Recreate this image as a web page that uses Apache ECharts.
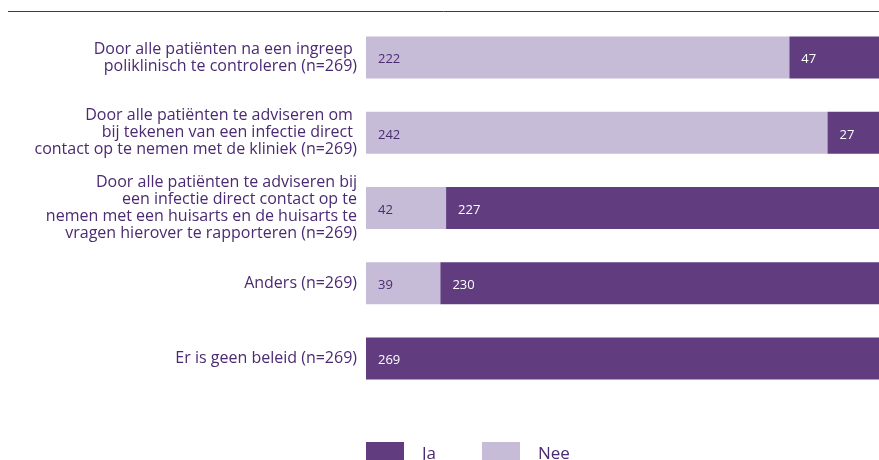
<!DOCTYPE html>
<html>
<head>
<meta charset="utf-8">
<script src="https://cdn.jsdelivr.net/npm/echarts@6/dist/echarts.min.js"></script>
<style>
  html, body { margin: 0; padding: 0; background: #fff; }
  #chart { width: 879px; height: 460px; }
</style>
</head>
<body>
<div id="chart"></div>
<script>
const categories = [
  'Door alle patiënten na een ingreep \npoliklinisch te controleren (n=269)',
  'Door alle patiënten te adviseren om \nbij tekenen van een infectie direct \ncontact op te nemen met de kliniek (n=269)',
  'Door alle patiënten te adviseren bij\neen infectie direct contact op te\nnemen met een huisarts en de huisarts te\nvragen hierover te rapporteren (n=269)',
  'Anders (n=269)',
  'Er is geen beleid (n=269)'
]
const neeValues = [222, 242, 42, 39, 0]
const jaValues = [47, 27, 227, 230, 269]

const dark = '#613d80'
const light = '#c6bcd7'
const textColor = '#4b2a72'
const font = '"Open Sans", sans-serif'

const chart = echarts.init(document.getElementById('chart'))

const valueLabel = (color) => ({
  show: true,
  position: 'insideLeft',
  distance: 12,
  offset: [0, 2],
  color: color,
  fontSize: 13,
  fontFamily: font,
  formatter: (p) => (p.value ? p.value : '')
})

chart.setOption({
  animation: false,
  grid: { left: 366, right: 0, top: 20, height: 376 },
  xAxis: {
    type: 'value',
    min: 0,
    max: 269,
    show: false
  },
  yAxis: {
    type: 'category',
    inverse: true,
    data: categories,
    axisLine: { show: false },
    axisTick: { show: false },
    axisLabel: {
      color: textColor,
      fontSize: 16,
      lineHeight: 17,
      fontFamily: font,
      margin: 9,
      align: 'right'
    }
  },
  legend: {
    data: ['Ja', 'Nee'],
    left: 366,
    top: 442,
    padding: 0,
    itemWidth: 38,
    itemHeight: 24,
    itemGap: 46,
    icon: 'rect',
    textStyle: {
      color: textColor,
      fontSize: 17,
      fontFamily: font,
      padding: [0, 0, 0, 13]
    }
  },
  graphic: [{
    type: 'line',
    shape: { x1: 8, y1: 11.5, x2: 879, y2: 11.5 },
    style: { stroke: '#4b2a72', lineWidth: 1 }
  }],
  series: [
    {
      name: 'Nee',
      type: 'bar',
      stack: 'total',
      barWidth: 42,
      data: neeValues,
      itemStyle: { color: light },
      label: valueLabel(textColor)
    },
    {
      name: 'Ja',
      type: 'bar',
      stack: 'total',
      barWidth: 42,
      data: jaValues,
      itemStyle: { color: dark },
      label: valueLabel('#ffffff')
    }
  ]
})
</script>
</body>
</html>
